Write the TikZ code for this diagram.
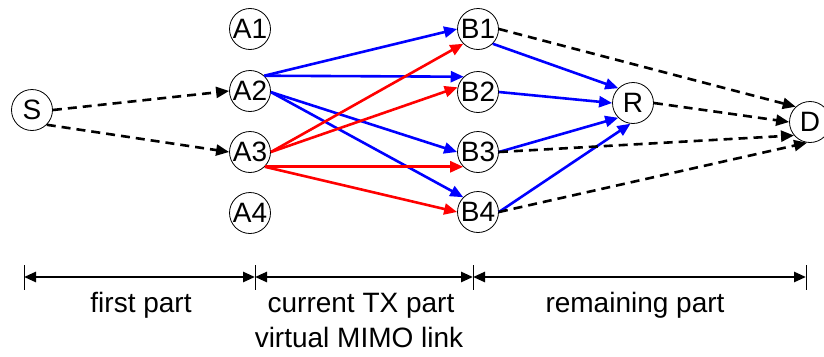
\documentclass[tikz,border=0pt]{standalone}
\usepackage{fontspec}
\setmainfont{Liberation Sans}
\usetikzlibrary{arrows.meta}

\begin{document}
\begin{tikzpicture}[x=1pt, y=-1pt, >={Triangle[length=13pt,width=11pt]},
    stn/.style={draw, circle, line width=0.8pt, minimum size=41pt, inner sep=0pt,
                font=\fontsize{28}{32}\selectfont},
    hop/.style={->, line width=2.6pt},
    relay/.style={hop, dash pattern=on 9pt off 6pt},
    span/.style={{Triangle[length=12pt,width=10pt]}-{Triangle[length=12pt,width=10pt]}, line width=2.6pt},
    partlabel/.style={anchor=base, font=\fontsize{28}{32}\selectfont}]
    \useasboundingbox (0,0) rectangle (824,356);

    % stations
    \node[stn] (S) at (32,110) {S};
    \foreach \i/\y in {1/29, 2/91, 3/152, 4/213}
        \node[stn] (A\i) at (250,\y) {A\i};
    \foreach \i/\y in {1/29, 2/92, 3/152, 4/212}
        \node[stn] (B\i) at (478,\y) {B\i};
    \node[stn] (R) at (633,103) {R};
    \node[stn] (D) at (810,122) {D};

    % first part
    \draw[relay] (S.0) -- (A2.180);
    \draw[relay] (S.-45) -- (A3.180);

    % virtual MIMO link
    \draw[hop, blue] (A2.47) -- (B1.180);
    \draw[hop, blue] (A2.47) -- (B2.133);
    \draw[hop, blue] (A2.-3) -- (B3.180);
    \draw[hop, blue] (A2.-3) -- (B4.135);
    \draw[hop, red] (A3.0) -- (B1.225);
    \draw[hop, red] (A3.0) -- (B2.167);
    \draw[hop, red] (A3.-45) -- (B3.225);
    \draw[hop, red] (A3.-45) -- (B4.180);

    % remaining part
    \draw[hop, blue] (B1.-45) -- (R.135);
    \draw[hop, blue] (B2.0) -- (R.180);
    \draw[hop, blue] (B3.0) -- (R.225);
    \draw[hop, blue] (B4.0) -- (R.-97);
    \draw[relay] (B1.0) -- (D.133);
    \draw[relay] (R.0) -- (D.180);
    \draw[relay] (B3.0) -- (D.220);
    \draw[relay] (B4.0) -- (D.-98);

    % parts along the bottom
    \foreach \n/\x in {0/24, 1/255, 2/473, 3/806} {
        \coordinate (t\n) at (\x,277);
        \draw[line width=0.8pt] (\x,265) -- (\x,290);
    }
    \draw[span] (t0) -- (t1);
    \draw[span] (t1) -- (t2);
    \draw[span] (t2) -- (t3);

    \node[partlabel] (first) at (141,312) {first part};
    \node[partlabel] (current) at (361,312) {current TX part};
    \node[partlabel] (virtual) at (359,347) {virtual MIMO link};
    \node[partlabel] (remain) at (635,312) {remaining part};
\end{tikzpicture}
\end{document}
